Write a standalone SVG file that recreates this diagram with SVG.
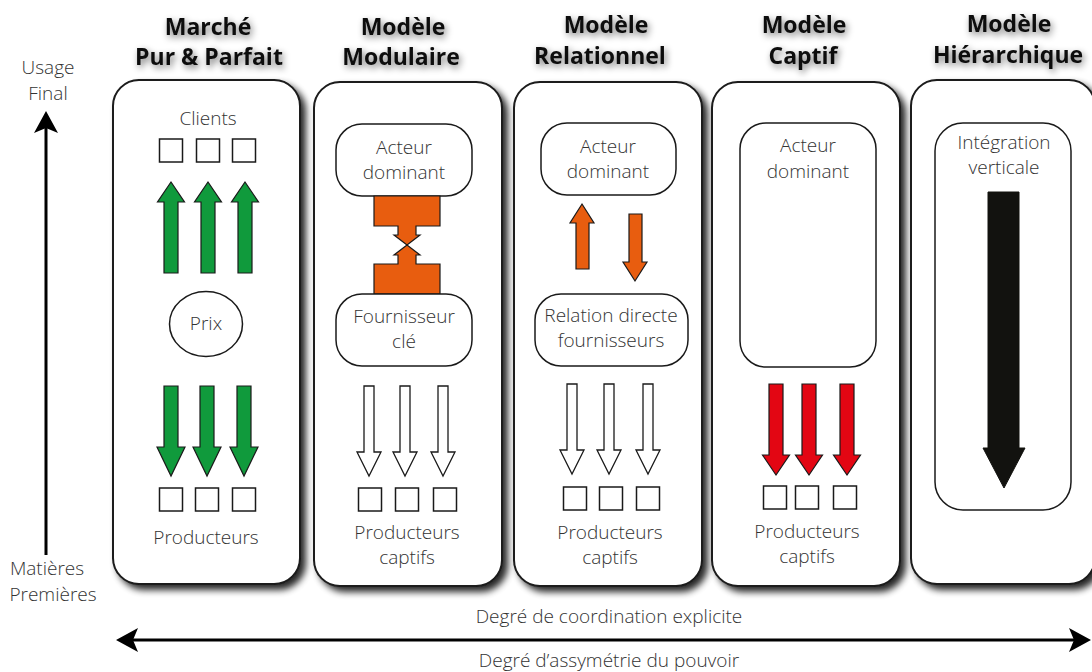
<svg xmlns="http://www.w3.org/2000/svg" xmlns:xlink="http://www.w3.org/1999/xlink" width="1092" height="672" viewBox="0 0 1092 672">
<defs>
<style>
.title{font-family:"Open Sans","Liberation Sans",sans-serif;font-weight:700;font-size:23px;fill:#111;text-anchor:middle}
.lbl{font-family:"Open Sans","Liberation Sans",sans-serif;font-weight:300;font-size:19px;fill:#333;text-anchor:middle}
.ax{font-family:"Open Sans","Liberation Sans",sans-serif;font-weight:300;font-size:19px;fill:#333;text-anchor:middle}
.col{fill:#fff;stroke:#1a1a1a;stroke-width:2}
.inner{fill:#fff;stroke:#1a1a1a;stroke-width:1.5}
.sq{fill:#fff;stroke:#1a1a1a;stroke-width:1.5}
.green{fill:#109a3c;stroke:#1a1a1a;stroke-width:1.2}
.orange{fill:#e85d0f;stroke:#1a1a1a;stroke-width:1.2}
.red{fill:#e30613;stroke:#1a1a1a;stroke-width:1.2}
.white{fill:#fff;stroke:#1a1a1a;stroke-width:1.3}
.black{fill:#12120f;stroke:#12120f;stroke-width:1}
.axis{stroke:#000;stroke-width:3;fill:none}
</style>
<filter id="sh" x="-20%" y="-10%" width="140%" height="125%">
<feGaussianBlur in="SourceAlpha" stdDeviation="3.5"/>
<feOffset dx="5" dy="5" result="b"/>
<feComponentTransfer><feFuncA type="linear" slope="0.85"/></feComponentTransfer>
<feMerge><feMergeNode/><feMergeNode in="SourceGraphic"/></feMerge>
</filter>
<filter id="tsh" x="-20%" y="-40%" width="140%" height="200%">
<feGaussianBlur in="SourceAlpha" stdDeviation="3.5"/>
<feOffset dx="2" dy="3"/>
<feComponentTransfer><feFuncA type="linear" slope="0.55"/></feComponentTransfer>
<feMerge><feMergeNode/><feMergeNode in="SourceGraphic"/></feMerge>
</filter>
<path id="upG" d="M0,0 L13.5,20 L7,20 L7,91 L-7,91 L-7,20 L-13.5,20 Z"/>
<path id="downG" d="M-7,0 L7,0 L7,61 L14,61 L0,90 L-14,61 L-7,61 Z"/>
<path id="downW" d="M-5,0 L5,0 L5,66 L12,66 L0,90 L-12,66 L-5,66 Z"/>
<path id="downR" d="M-7,0 L7,0 L7,71 L13.5,71 L0,91 L-13.5,71 L-7,71 Z"/>
<rect id="sqr" x="-11.5" y="0" width="23" height="23"/>
</defs>

<!-- titles -->
<g id="titles" filter="url(#tsh)">
<text class="title" x="208" y="35">Marché</text>
<text class="title" x="209" y="65">Pur &amp; Parfait</text>
<text class="title" x="403" y="35">Modèle</text>
<text class="title" x="401" y="65">Modulaire</text>
<text class="title" x="606" y="33">Modèle</text>
<text class="title" x="600" y="64">Relationnel</text>
<text class="title" x="804" y="33">Modèle</text>
<text class="title" x="803" y="64">Captif</text>
<text class="title" x="1009" y="32">Modèle</text>
<text class="title" x="1008" y="63">Hiérarchique</text>
</g>

<!-- Column 1: Marché pur & parfait -->
<g id="col-marche">
<rect class="col" x="113" y="80" width="187" height="504" rx="26" filter="url(#sh)"/>
<text class="lbl" x="208" y="125">Clients</text>
<use href="#sqr" class="sq" x="171" y="139"/>
<use href="#sqr" class="sq" x="208" y="139"/>
<use href="#sqr" class="sq" x="244" y="139"/>
<use href="#upG" class="green" x="171" y="182"/>
<use href="#upG" class="green" x="208" y="182"/>
<use href="#upG" class="green" x="245" y="182"/>
<g id="prix">
<ellipse class="inner" cx="206" cy="324" rx="36.5" ry="32.5"/>
<text class="lbl" x="206" y="330">Prix</text>
</g>
<use href="#downG" class="green" x="171" y="386"/>
<use href="#downG" class="green" x="207" y="386"/>
<use href="#downG" class="green" x="244" y="386"/>
<use href="#sqr" class="sq" x="171" y="488"/>
<use href="#sqr" class="sq" x="207" y="488"/>
<use href="#sqr" class="sq" x="244" y="488"/>
<text class="lbl" x="206" y="544">Producteurs</text>
</g>

<!-- Column 2: Modulaire -->
<g id="col-modulaire">
<rect class="col" x="314" y="82" width="188" height="504" rx="26" filter="url(#sh)"/>
<g id="mod-acteur">
<rect class="inner" x="336" y="124" width="136" height="72" rx="26"/>
<text class="lbl" x="404" y="154">Acteur</text>
<text class="lbl" x="404" y="179">dominant</text>
</g>
<path class="orange" d="M374,196 L440,196 L440,226 L416,226 L416,235 L420,235 L407,245 L394,235 L398,235 L398,226 L374,226 Z"/>
<path class="orange" d="M374,294 L440,294 L440,264 L416,264 L416,255 L420,255 L407,245 L394,255 L398,255 L398,264 L374,264 Z"/>
<g id="mod-fournisseur">
<rect class="inner" x="336" y="294" width="136" height="72" rx="26"/>
<text class="lbl" x="404" y="323">Fournisseur</text>
<text class="lbl" x="404" y="348">clé</text>
</g>
<use href="#downW" class="white" x="369" y="386"/>
<use href="#downW" class="white" x="405" y="386"/>
<use href="#downW" class="white" x="443" y="386"/>
<use href="#sqr" class="sq" x="370" y="488"/>
<use href="#sqr" class="sq" x="407" y="488"/>
<use href="#sqr" class="sq" x="445" y="488"/>
<text class="lbl" x="407" y="539">Producteurs</text>
<text class="lbl" x="407" y="564">captifs</text>
</g>

<!-- Column 3: Relationnel -->
<g id="col-relationnel">
<rect class="col" x="514" y="82" width="188" height="504" rx="26" filter="url(#sh)"/>
<g id="rel-acteur">
<rect class="inner" x="541" y="123" width="135" height="72" rx="26"/>
<text class="lbl" x="608" y="153">Acteur</text>
<text class="lbl" x="608" y="178">dominant</text>
</g>
<path class="orange" d="M582,204 L594,223 L589,223 L589,269 L576,269 L576,223 L570,223 Z"/>
<path class="orange" d="M629,214 L642,214 L642,262 L647,262 L635,281 L623,262 L629,262 Z"/>
<g id="rel-relation">
<rect class="inner" x="535" y="294" width="153" height="72" rx="26"/>
<text class="lbl" x="611" y="322">Relation directe</text>
<text class="lbl" x="611" y="347">fournisseurs</text>
</g>
<use href="#downW" class="white" x="572" y="384"/>
<use href="#downW" class="white" x="609" y="384"/>
<use href="#downW" class="white" x="648" y="384"/>
<use href="#sqr" class="sq" x="575" y="487"/>
<use href="#sqr" class="sq" x="611" y="487"/>
<use href="#sqr" class="sq" x="648" y="487"/>
<text class="lbl" x="610" y="539">Producteurs</text>
<text class="lbl" x="610" y="564">captifs</text>
</g>

<!-- Column 4: Captif -->
<g id="col-captif">
<rect class="col" x="712" y="82" width="188" height="504" rx="26" filter="url(#sh)"/>
<g id="cap-acteur">
<rect class="inner" x="740" y="123" width="136" height="244" rx="26"/>
<text class="lbl" x="808" y="152">Acteur</text>
<text class="lbl" x="808" y="178">dominant</text>
</g>
<use href="#downR" class="red" x="776" y="384"/>
<use href="#downR" class="red" x="809" y="384"/>
<use href="#downR" class="red" x="847" y="384"/>
<use href="#sqr" class="sq" x="775" y="486"/>
<use href="#sqr" class="sq" x="807" y="486"/>
<use href="#sqr" class="sq" x="845" y="486"/>
<text class="lbl" x="807" y="538">Producteurs</text>
<text class="lbl" x="807" y="563">captifs</text>
</g>

<!-- Column 5: Hiérarchique -->
<g id="col-hierarchique">
<rect class="col" x="911" y="80" width="184" height="504" rx="26" filter="url(#sh)"/>
<g id="hier-integration">
<rect class="inner" x="935" y="123" width="136" height="387" rx="28"/>
<text class="lbl" x="1004" y="149">Intégration</text>
<text class="lbl" x="1004" y="174">verticale</text>
<path class="black" d="M988,192 L1019,192 L1019,448 L1025,448 L1004,488 L983,448 L988,448 Z"/>
</g>
</g>

<!-- axes -->
<g id="connectors">
<g id="axis-vertical">
<line class="axis" x1="46" y1="555" x2="46" y2="122"/>
<path d="M46,111 L58,133 L46,128 L34,133 Z" fill="#000"/>
<text class="ax" x="48" y="74">Usage</text>
<text class="ax" x="48" y="100">Final</text>
<text class="ax" x="47" y="575">Matières</text>
<text class="ax" x="53" y="601">Premières</text>
</g>
<g id="axis-horizontal">
<line class="axis" x1="126" y1="640" x2="1080" y2="640"/>
<path d="M116,640 L138,628 L133,640 L138,652 Z" fill="#000"/>
<path d="M1091,640 L1069,628 L1074,640 L1069,652 Z" fill="#000"/>
<text class="ax" x="609" y="623">Degré de coordination explicite</text>
<text class="ax" x="609" y="667">Degré d’assymétrie du pouvoir</text>
</g>
</g>
</svg>
